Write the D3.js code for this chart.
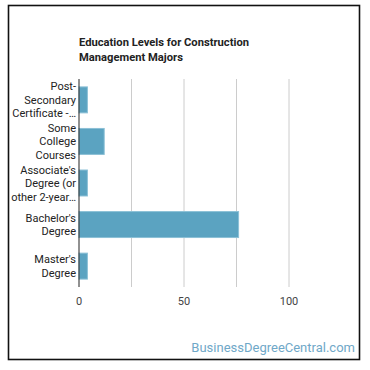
<!DOCTYPE html>
<html>
<head>
<meta charset="utf-8">
<script src="https://cdn.jsdelivr.net/npm/d3@7"></script>
<style>
  body { margin: 0; background: #fff; }
  svg { display: block; font-family: Roboto, sans-serif; }
</style>
</head>
<body>
<svg id="chart" width="370" height="370"></svg>
<script>
const categories = [
  ["Post-", "Secondary", "Certificate -…"],
  ["Some", "College", "Courses"],
  ["Associate's", "Degree (or", "other 2-year…"],
  ["Bachelor's", "Degree"],
  ["Master's", "Degree"]
];
const values = [4, 12, 4, 76, 4];
const tickValues = [0, 25, 50, 75, 100];
const tickLabels = ["0", "50", "100"];

const svg = d3.select('#chart');

// outer frame
svg.append('rect')
  .attr('x', 8.5).attr('y', 5.5)
  .attr('width', 351).attr('height', 354)
  .attr('fill', '#fff').attr('stroke', '#111').attr('stroke-width', 1.6);

// title
const title = svg.append('text')
  .attr('x', 79).attr('y', 46)
  .attr('font-size', 11.2).attr('font-weight', 'bold').attr('fill', '#222');
title.append('tspan').attr('x', 79).text('Education Levels for Construction');
title.append('tspan').attr('x', 79).attr('dy', 15).text('Management Majors');

const x = d3.scaleLinear().domain([0, 125]).range([79, 341.5]);
const y = d3.scaleBand().domain(d3.range(categories.length)).range([79, 287]).paddingInner(0.375).paddingOuter(0.19);

// gridlines
svg.append('g').selectAll('line')
  .data(tickValues.filter(d => d > 0))
  .join('line')
  .attr('x1', d => x(d)).attr('x2', d => x(d))
  .attr('y1', 79).attr('y2', 287)
  .attr('stroke', '#ccc').attr('stroke-width', 1);

// bars
svg.append('g').selectAll('rect')
  .data(values)
  .join('rect')
  .attr('x', x(0))
  .attr('y', (d, i) => y(i))
  .attr('width', d => x(d) - x(0))
  .attr('height', y.bandwidth())
  .attr('fill', '#5ba3c1')
  .attr('stroke', '#8cc0d6').attr('stroke-width', 1);

// baseline
svg.append('line')
  .attr('x1', x(0)).attr('x2', x(0))
  .attr('y1', 79).attr('y2', 287)
  .attr('stroke', '#222').attr('stroke-width', 1);

// category labels
const lineH = 13.5;
svg.append('g').selectAll('text')
  .data(categories)
  .join('text')
  .attr('text-anchor', 'end')
  .attr('font-size', 11).attr('fill', '#222')
  .each(function (lines, i) {
    const cy = y(i) + y.bandwidth() / 2;
    const top = cy - (lines.length - 1) * lineH / 2;
    d3.select(this).selectAll('tspan')
      .data(lines)
      .join('tspan')
      .attr('x', 76)
      .attr('y', (d, j) => top + j * lineH + 4)
      .text(d => d);
  });

// x tick labels
svg.append('g').selectAll('text')
  .data(tickLabels)
  .join('text')
  .attr('x', d => x(+d))
  .attr('y', 305)
  .attr('text-anchor', 'middle')
  .attr('font-size', 11).attr('fill', '#444')
  .text(d => d);

// watermark
svg.append('text')
  .attr('x', 355).attr('y', 352)
  .attr('text-anchor', 'end')
  .attr('font-size', 13).attr('fill', '#6fa8c8')
  .text('BusinessDegreeCentral.com');
</script>
</body>
</html>
